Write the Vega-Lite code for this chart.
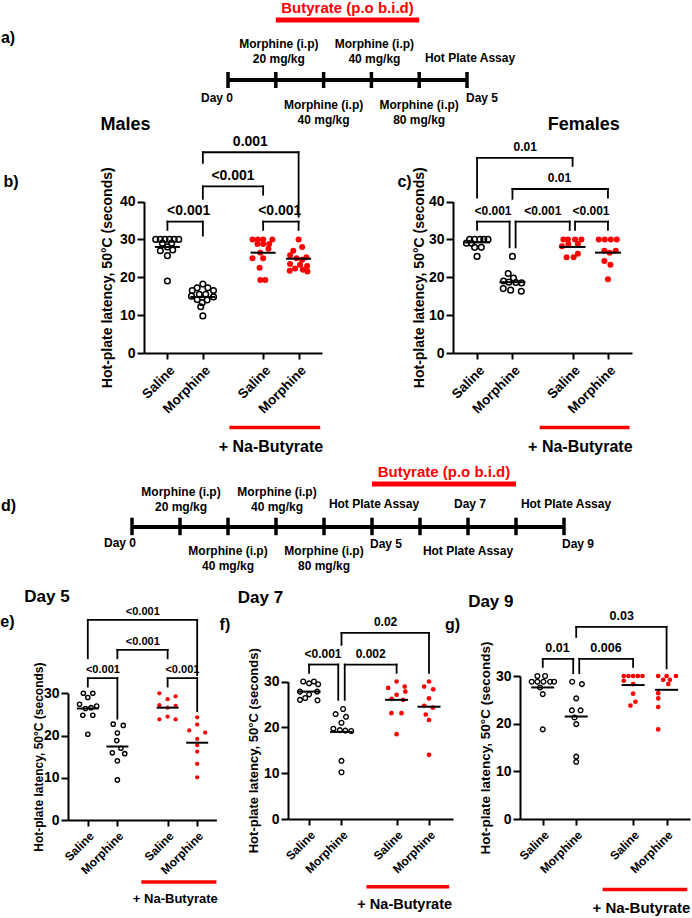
{
"$schema": "https://vega.github.io/schema/vega-lite/v6.json",
"background": "white",
"padding": 0,
"bounds": "flush",
"spacing": 0,
"config": {
  "font": "Liberation Sans",
  "view": {"stroke": null},
  "axis": {"domainColor": "black", "domainWidth": 2, "tickColor": "black", "tickWidth": 2, "labelColor": "black", "labelFontWeight": "bold", "titleColor": "black", "titleFontWeight": "bold", "grid": false, "labelOverlap": false, "labelFlush": false, "labelBound": false, "tickCount": 12},
  "text": {"fontWeight": "bold", "color": "black"}
},
"datasets": {
  "pts": [
    {"p":"b","g":"S","x":0.67,"v":30},{"p":"b","g":"S","x":0.8,"v":30},{"p":"b","g":"S","x":0.93,"v":30},{"p":"b","g":"S","x":1.06,"v":30},{"p":"b","g":"S","x":1.19,"v":30},{"p":"b","g":"S","x":1.32,"v":30},{"p":"b","g":"S","x":0.86,"v":29},{"p":"b","g":"S","x":1.12,"v":29},{"p":"b","g":"S","x":1.0,"v":28},{"p":"b","g":"S","x":0.8,"v":27},{"p":"b","g":"S","x":1.15,"v":27.2},{"p":"b","g":"S","x":1.0,"v":25.7},{"p":"b","g":"S","x":1.0,"v":19},
    {"p":"b","g":"M","x":2.0,"v":18.2},{"p":"b","g":"M","x":1.84,"v":17.2},{"p":"b","g":"M","x":2.14,"v":17.2},{"p":"b","g":"M","x":1.7,"v":16.5},{"p":"b","g":"M","x":2.3,"v":16.5},{"p":"b","g":"M","x":1.9,"v":15.5},{"p":"b","g":"M","x":2.08,"v":15.5},{"p":"b","g":"M","x":1.68,"v":15.0},{"p":"b","g":"M","x":2.3,"v":14.8},{"p":"b","g":"M","x":1.84,"v":14.1},{"p":"b","g":"M","x":2.12,"v":14.0},{"p":"b","g":"M","x":1.98,"v":13.3},{"p":"b","g":"M","x":1.94,"v":12.2},{"p":"b","g":"M","x":2.0,"v":9.8},
    {"p":"b","g":"NS","x":3.4,"v":30},{"p":"b","g":"NS","x":3.55,"v":30},{"p":"b","g":"NS","x":3.7,"v":30},{"p":"b","g":"NS","x":3.96,"v":30},{"p":"b","g":"NS","x":3.54,"v":28.8},{"p":"b","g":"NS","x":3.7,"v":28.8},{"p":"b","g":"NS","x":3.87,"v":28.8},{"p":"b","g":"NS","x":3.85,"v":27.5},{"p":"b","g":"NS","x":3.62,"v":26.5},{"p":"b","g":"NS","x":3.4,"v":25},{"p":"b","g":"NS","x":3.7,"v":25},{"p":"b","g":"NS","x":3.6,"v":22.5},{"p":"b","g":"NS","x":3.62,"v":19.3},{"p":"b","g":"NS","x":3.76,"v":19.3},
    {"p":"b","g":"NM","x":4.7,"v":30},{"p":"b","g":"NM","x":4.8,"v":28},{"p":"b","g":"NM","x":4.55,"v":27},{"p":"b","g":"NM","x":4.46,"v":25.8},{"p":"b","g":"NM","x":4.92,"v":25.3},{"p":"b","g":"NM","x":4.64,"v":25},{"p":"b","g":"NM","x":4.8,"v":24.6},{"p":"b","g":"NM","x":4.46,"v":23.5},{"p":"b","g":"NM","x":4.74,"v":23.3},{"p":"b","g":"NM","x":4.94,"v":23},{"p":"b","g":"NM","x":4.6,"v":22.3},{"p":"b","g":"NM","x":4.82,"v":22},{"p":"b","g":"NM","x":4.45,"v":21.7},{"p":"b","g":"NM","x":4.95,"v":21.5},
    {"p":"c","g":"S","x":0.79,"v":30},{"p":"c","g":"S","x":0.93,"v":30},{"p":"c","g":"S","x":1.08,"v":30},{"p":"c","g":"S","x":1.19,"v":30},{"p":"c","g":"S","x":1.31,"v":30},{"p":"c","g":"S","x":0.7,"v":29},{"p":"c","g":"S","x":0.84,"v":29},{"p":"c","g":"S","x":0.93,"v":27.9},{"p":"c","g":"S","x":1.12,"v":27.9},{"p":"c","g":"S","x":1.0,"v":25.5},
    {"p":"c","g":"M","x":2.0,"v":25.5},{"p":"c","g":"M","x":1.88,"v":21},{"p":"c","g":"M","x":2.03,"v":19.8},{"p":"c","g":"M","x":1.75,"v":19},{"p":"c","g":"M","x":1.9,"v":18.7},{"p":"c","g":"M","x":2.1,"v":18.6},{"p":"c","g":"M","x":2.26,"v":18.5},{"p":"c","g":"M","x":1.74,"v":17},{"p":"c","g":"M","x":1.95,"v":16.6},{"p":"c","g":"M","x":2.25,"v":16.3},
    {"p":"c","g":"NS","x":3.44,"v":30},{"p":"c","g":"NS","x":3.57,"v":30},{"p":"c","g":"NS","x":3.77,"v":30},{"p":"c","g":"NS","x":3.95,"v":30},{"p":"c","g":"NS","x":3.58,"v":28.8},{"p":"c","g":"NS","x":3.85,"v":28.8},{"p":"c","g":"NS","x":3.4,"v":28.2},{"p":"c","g":"NS","x":3.85,"v":26.2},{"p":"c","g":"NS","x":3.53,"v":25.3},{"p":"c","g":"NS","x":3.73,"v":25.3},
    {"p":"c","g":"NM","x":4.44,"v":30},{"p":"c","g":"NM","x":4.61,"v":30},{"p":"c","g":"NM","x":4.78,"v":30},{"p":"c","g":"NM","x":4.95,"v":30},{"p":"c","g":"NM","x":4.6,"v":27},{"p":"c","g":"NM","x":4.92,"v":27},{"p":"c","g":"NM","x":4.75,"v":26.5},{"p":"c","g":"NM","x":4.6,"v":24.3},{"p":"c","g":"NM","x":4.77,"v":23.3},{"p":"c","g":"NM","x":4.7,"v":19.5},
    {"p":"e","g":"S","x":0.85,"v":30},{"p":"e","g":"S","x":1.17,"v":30},{"p":"e","g":"S","x":1.0,"v":29},{"p":"e","g":"S","x":0.72,"v":27.4},{"p":"e","g":"S","x":0.92,"v":26.4},{"p":"e","g":"S","x":1.11,"v":26.6},{"p":"e","g":"S","x":1.3,"v":27.0},{"p":"e","g":"S","x":0.83,"v":24.8},{"p":"e","g":"S","x":1.17,"v":24.8},{"p":"e","g":"S","x":1.0,"v":20.3},
    {"p":"e","g":"M","x":1.86,"v":22.7},{"p":"e","g":"M","x":2.2,"v":22.4},{"p":"e","g":"M","x":2.0,"v":20.6},{"p":"e","g":"M","x":1.98,"v":18.8},{"p":"e","g":"M","x":2.12,"v":17.0},{"p":"e","g":"M","x":1.83,"v":15.9},{"p":"e","g":"M","x":2.25,"v":15.7},{"p":"e","g":"M","x":2.0,"v":14.0},{"p":"e","g":"M","x":2.0,"v":9.5},
    {"p":"e","g":"NS","x":3.42,"v":30},{"p":"e","g":"NS","x":3.97,"v":29.3},{"p":"e","g":"NS","x":3.7,"v":28.6},{"p":"e","g":"NS","x":3.42,"v":27.2},{"p":"e","g":"NS","x":3.97,"v":27.0},{"p":"e","g":"NS","x":3.7,"v":26.6},{"p":"e","g":"NS","x":3.7,"v":24.5},{"p":"e","g":"NS","x":3.42,"v":23.8},{"p":"e","g":"NS","x":3.97,"v":23.8},
    {"p":"e","g":"NM","x":4.7,"v":24.3},{"p":"e","g":"NM","x":4.7,"v":22.6},{"p":"e","g":"NM","x":4.43,"v":21.2},{"p":"e","g":"NM","x":4.97,"v":20.7},{"p":"e","g":"NM","x":4.7,"v":19.2},{"p":"e","g":"NM","x":4.7,"v":17.7},{"p":"e","g":"NM","x":4.7,"v":16.2},{"p":"e","g":"NM","x":4.7,"v":13.3},{"p":"e","g":"NM","x":4.7,"v":10.1},
    {"p":"f","g":"S","x":0.82,"v":30},{"p":"f","g":"S","x":1.15,"v":30},{"p":"f","g":"S","x":1.0,"v":29.6},{"p":"f","g":"S","x":1.28,"v":29.4},{"p":"f","g":"S","x":0.72,"v":27.8},{"p":"f","g":"S","x":1.0,"v":27.2},{"p":"f","g":"S","x":1.25,"v":27.8},{"p":"f","g":"S","x":0.72,"v":26.0},{"p":"f","g":"S","x":1.26,"v":25.9},{"p":"f","g":"S","x":0.88,"v":26.4},
    {"p":"f","g":"M","x":2.05,"v":24},{"p":"f","g":"M","x":1.82,"v":22.9},{"p":"f","g":"M","x":2.14,"v":22.3},{"p":"f","g":"M","x":2.0,"v":21},{"p":"f","g":"M","x":1.75,"v":19.7},{"p":"f","g":"M","x":1.95,"v":19.4},{"p":"f","g":"M","x":2.12,"v":19.3},{"p":"f","g":"M","x":2.3,"v":19.2},{"p":"f","g":"M","x":2.0,"v":12.7},{"p":"f","g":"M","x":2.0,"v":10.2},
    {"p":"f","g":"NS","x":3.7,"v":30},{"p":"f","g":"NS","x":3.44,"v":28.6},{"p":"f","g":"NS","x":3.95,"v":28.9},{"p":"f","g":"NS","x":3.97,"v":27.8},{"p":"f","g":"NS","x":3.7,"v":27.1},{"p":"f","g":"NS","x":3.55,"v":26.2},{"p":"f","g":"NS","x":3.9,"v":26.0},{"p":"f","g":"NS","x":3.54,"v":23.1},{"p":"f","g":"NS","x":3.85,"v":23.1},{"p":"f","g":"NS","x":3.7,"v":18.5},
    {"p":"f","g":"NM","x":4.7,"v":30},{"p":"f","g":"NM","x":4.55,"v":28.9},{"p":"f","g":"NM","x":4.83,"v":28.3},{"p":"f","g":"NM","x":4.7,"v":26.3},{"p":"f","g":"NM","x":4.55,"v":24.7},{"p":"f","g":"NM","x":4.82,"v":24.3},{"p":"f","g":"NM","x":4.6,"v":22.8},{"p":"f","g":"NM","x":4.7,"v":21.6},{"p":"f","g":"NM","x":4.7,"v":14},
    {"p":"g","g":"S","x":0.84,"v":30},{"p":"g","g":"S","x":1.07,"v":30},{"p":"g","g":"S","x":0.67,"v":28.8},{"p":"g","g":"S","x":0.84,"v":28.8},{"p":"g","g":"S","x":1.02,"v":28.8},{"p":"g","g":"S","x":1.22,"v":28.8},{"p":"g","g":"S","x":1.34,"v":28.8},{"p":"g","g":"S","x":0.92,"v":27.6},{"p":"g","g":"S","x":1.0,"v":26.2},{"p":"g","g":"S","x":1.0,"v":18.8},
    {"p":"g","g":"M","x":1.88,"v":28.8},{"p":"g","g":"M","x":2.17,"v":28.3},{"p":"g","g":"M","x":2.0,"v":25.3},{"p":"g","g":"M","x":1.87,"v":22.8},{"p":"g","g":"M","x":2.13,"v":22.8},{"p":"g","g":"M","x":1.95,"v":21.3},{"p":"g","g":"M","x":2.0,"v":19.9},{"p":"g","g":"M","x":2.0,"v":13.1},{"p":"g","g":"M","x":2.0,"v":12.0},
    {"p":"g","g":"NS","x":3.42,"v":30},{"p":"g","g":"NS","x":3.56,"v":30},{"p":"g","g":"NS","x":3.7,"v":30},{"p":"g","g":"NS","x":3.84,"v":30},{"p":"g","g":"NS","x":3.98,"v":30},{"p":"g","g":"NS","x":3.42,"v":29.0},{"p":"g","g":"NS","x":3.7,"v":28.3},{"p":"g","g":"NS","x":3.7,"v":26.3},{"p":"g","g":"NS","x":3.77,"v":24.6},{"p":"g","g":"NS","x":3.62,"v":23.8},
    {"p":"g","g":"NM","x":4.45,"v":30},{"p":"g","g":"NM","x":4.7,"v":30},{"p":"g","g":"NM","x":4.98,"v":30},{"p":"g","g":"NM","x":4.6,"v":29.2},{"p":"g","g":"NM","x":4.8,"v":29.2},{"p":"g","g":"NM","x":4.75,"v":28.3},{"p":"g","g":"NM","x":4.45,"v":26.4},{"p":"g","g":"NM","x":4.45,"v":25.3},{"p":"g","g":"NM","x":4.45,"v":23.5},{"p":"g","g":"NM","x":4.45,"v":18.8}
  ],
  "med": [
    {"p":"b","x":1,"v":28.0},{"p":"b","x":2,"v":14.8},{"p":"b","x":3.7,"v":26.5},{"p":"b","x":4.7,"v":24.9},
    {"p":"c","x":1,"v":29.2},{"p":"c","x":2,"v":18.7},{"p":"c","x":3.7,"v":28.0},{"p":"c","x":4.7,"v":26.5},
    {"p":"e","x":1,"v":26.4},{"p":"e","x":2,"v":17.4},{"p":"e","x":3.7,"v":26.6},{"p":"e","x":4.7,"v":18.3},
    {"p":"f","x":1,"v":27.8},{"p":"f","x":2,"v":19.0},{"p":"f","x":3.7,"v":26.0},{"p":"f","x":4.7,"v":24.5},
    {"p":"g","x":1,"v":27.6},{"p":"g","x":2,"v":21.5},{"p":"g","x":3.7,"v":28.1},{"p":"g","x":4.7,"v":27.1}
  ],
  "br": [
    {"p":"b","x1":1,"x2":2,"top":34.7,"yL":32.5,"yR":31.0,"xm":1.6,"lab":"<0.001"},
    {"p":"b","x1":2,"x2":3.7,"top":44.0,"yL":40.7,"yR":41.8,"xm":2.85,"lab":"<0.001"},
    {"p":"b","x1":3.7,"x2":4.7,"top":34.7,"yL":32.5,"yR":32.5,"xm":4.17,"lab":"<0.001"},
    {"p":"b","x1":2,"x2":4.7,"top":53.0,"yL":50.2,"yR":36.0,"xm":3.34,"lab":"0.001"},
    {"p":"c","x1":1,"x2":3.7,"top":51.5,"yL":41.0,"yR":49.4,"xm":2.36,"lab":"0.01"},
    {"p":"c","x1":2,"x2":4.7,"top":43.3,"yL":40.7,"yR":41.0,"xm":3.33,"lab":"0.01"},
    {"p":"c","x1":1,"x2":1.92,"top":34.7,"yL":32.5,"yR":27.9,"xm":1.45,"lab":"<0.001"},
    {"p":"c","x1":2.09,"x2":3.62,"top":34.7,"yL":27.9,"yR":32.5,"xm":2.86,"lab":"<0.001"},
    {"p":"c","x1":3.77,"x2":4.7,"top":34.7,"yL":32.5,"yR":32.5,"xm":4.22,"lab":"<0.001"},
    {"p":"e","x1":1,"x2":4.7,"top":47.4,"yL":38.3,"yR":34.3,"xm":2.86,"lab":"<0.001"},
    {"p":"e","x1":2,"x2":3.7,"top":40.3,"yL":38.3,"yR":38.3,"xm":2.86,"lab":"<0.001"},
    {"p":"e","x1":1,"x2":2,"top":33.6,"yL":31.6,"yR":24.0,"xm":1.51,"lab":"<0.001"},
    {"p":"e","x1":3.7,"x2":4.7,"top":33.6,"yL":31.6,"yR":25.8,"xm":4.2,"lab":"<0.001"},
    {"p":"f","x1":2,"x2":4.7,"top":40.6,"yL":38.0,"yR":31.9,"xm":3.36,"lab":"0.02"},
    {"p":"f","x1":1,"x2":1.9,"top":33.7,"yL":31.9,"yR":26.0,"xm":1.43,"lab":"<0.001"},
    {"p":"f","x1":2.1,"x2":3.7,"top":33.7,"yL":26.0,"yR":31.9,"xm":2.9,"lab":"0.002"},
    {"p":"g","x1":2,"x2":4.7,"top":40.3,"yL":38.2,"yR":31.6,"xm":3.36,"lab":"0.03"},
    {"p":"g","x1":1,"x2":1.91,"top":33.6,"yL":31.9,"yR":30.6,"xm":1.44,"lab":"0.01"},
    {"p":"g","x1":2.09,"x2":3.7,"top":33.6,"yL":30.6,"yR":31.9,"xm":2.89,"lab":"0.006"}
  ],
  "tl": [
    {"t":"a","day":1,"side":"above2","label":"Morphine (i.p)\n20 mg/kg"},
    {"t":"a","day":3,"side":"above2","label":"Morphine (i.p)\n40 mg/kg"},
    {"t":"a","day":5,"side":"above1","label":"Hot Plate Assay"},
    {"t":"a","day":2,"side":"below","label":"Morphine (i.p)\n40 mg/kg"},
    {"t":"a","day":4,"side":"below","label":"Morphine (i.p)\n80 mg/kg"},
    {"t":"a","day":0,"side":"dayR","label":"Day 0"},
    {"t":"a","day":5,"side":"dayL","label":"Day 5"},
    {"t":"d","day":1,"side":"above2","label":"Morphine (i.p)\n20 mg/kg"},
    {"t":"d","day":3,"side":"above2","label":"Morphine (i.p)\n40 mg/kg"},
    {"t":"d","day":5,"side":"above1","label":"Hot Plate Assay"},
    {"t":"d","day":7,"side":"above1","label":"Day 7"},
    {"t":"d","day":9,"side":"above1","label":"Hot Plate Assay"},
    {"t":"d","day":2,"side":"below","label":"Morphine (i.p)\n40 mg/kg"},
    {"t":"d","day":4,"side":"below","label":"Morphine (i.p)\n80 mg/kg"},
    {"t":"d","day":7,"side":"below","label":"Hot Plate Assay"},
    {"t":"d","day":0,"side":"dayR","label":"Day 0"},
    {"t":"d","day":5,"side":"dayL","label":"Day 5"},
    {"t":"d","day":9,"side":"dayL","label":"Day 9"}
  ],
  "ticks": [
    {"t":"a","day":0},{"t":"a","day":1},{"t":"a","day":2},{"t":"a","day":3},{"t":"a","day":4},{"t":"a","day":5},
    {"t":"d","day":0},{"t":"d","day":1},{"t":"d","day":2},{"t":"d","day":3},{"t":"d","day":4},{"t":"d","day":5},{"t":"d","day":6},{"t":"d","day":7},{"t":"d","day":8},{"t":"d","day":9}
  ],
  "span": [{"t":"a","start":0,"end":5},{"t":"d","start":0,"end":9}],
  "treat": [{"t":"a","start":1,"end":4,"mid":2.5,"label":"Butyrate (p.o b.i.d)"},{"t":"d","start":5,"end":8,"mid":6.5,"label":"Butyrate (p.o b.i.d)"}]
},
"hconcat": [
  {"width": 68, "height": 1, "data": {"values": []}, "mark": "point"},

  {"width": 64, "height": 820, "layer": [
    {"data": {"name": "pts"}, "transform": [{"filter": "datum.p==='e' && (datum.g==='S' || datum.g==='M')"}], "mark": {"type": "point", "shape": "circle", "filled": false, "color": "black", "stroke": "black", "strokeWidth": 1.4, "size": 18, "opacity": 1},
     "encoding": {"x": {"field": "x", "type": "quantitative", "scale": {"domain": [0.33, 5.35], "range": [0, 148.4], "nice": false, "zero": false}, "axis": {"values": [1, 2, 3.7, 4.7], "tickCount": 12, "labelExpr": "(datum.value < 1.5 || (datum.value > 3 && datum.value < 4)) ? 'Saline' : 'Morphine'", "labelAngle": -45, "labelFontSize": 12, "tickSize": 6, "labelPadding": 4, "labelOverlap": false, "title": null}},
                  "y": {"field": "v", "type": "quantitative", "scale": {"domain": [0, 30], "range": [820, 693.3], "nice": false, "zero": false}, "axis": {"values": [0, 10, 20, 30], "tickCount": 12, "labelFontSize": 14, "tickSize": 7, "labelPadding": 2, "labelOverlap": false, "title": "Hot-plate latency, 50°C (seconds)", "titleFontSize": 12, "titleX": -30, "titleBaseline": "middle"}}}},
    {"data": {"name": "pts"}, "transform": [{"filter": "datum.p==='e' && (datum.g==='NS' || datum.g==='NM')"}], "mark": {"type": "point", "shape": "circle", "filled": true, "color": "#ff0000", "size": 18, "opacity": 1},
     "encoding": {"x": {"field": "x", "type": "quantitative"}, "y": {"field": "v", "type": "quantitative"}}},
    {"data": {"name": "med"}, "transform": [{"filter": "datum.p==='e'"}], "mark": {"type": "tick", "orient": "horizontal", "size": 22, "thickness": 2, "color": "black", "opacity": 1},
     "encoding": {"x": {"field": "x", "type": "quantitative"}, "y": {"field": "v", "type": "quantitative"}}},
    {"data": {"name": "br"}, "transform": [{"filter": "datum.p==='e'"}], "mark": {"type": "rule", "strokeWidth": 1.8, "color": "black", "strokeCap": "square"},
     "encoding": {"x": {"field": "x1", "type": "quantitative"}, "x2": {"field": "x2"}, "y": {"field": "top", "type": "quantitative"}}},
    {"data": {"name": "br"}, "transform": [{"filter": "datum.p==='e'"}], "mark": {"type": "rule", "strokeWidth": 1.8, "color": "black", "strokeCap": "square"},
     "encoding": {"x": {"field": "x1", "type": "quantitative"}, "y": {"field": "yL", "type": "quantitative"}, "y2": {"field": "top"}}},
    {"data": {"name": "br"}, "transform": [{"filter": "datum.p==='e'"}], "mark": {"type": "rule", "strokeWidth": 1.8, "color": "black", "strokeCap": "square"},
     "encoding": {"x": {"field": "x2", "type": "quantitative"}, "y": {"field": "yR", "type": "quantitative"}, "y2": {"field": "top"}}},
    {"data": {"name": "br"}, "transform": [{"filter": "datum.p==='e'"}], "mark": {"type": "text", "fontSize": 11, "baseline": "alphabetic", "dy": -5},
     "encoding": {"x": {"field": "xm", "type": "quantitative"}, "y": {"field": "top", "type": "quantitative"}, "text": {"field": "lab"}}},
    {"data": {"values": [{}]}, "mark": {"type": "rule", "strokeWidth": 3.5, "color": "#ff0000"},
     "encoding": {"x": {"datum": 2.81}, "x2": {"datum": 5.35}, "y": {"datum": -14.7}}},
    {"data": {"values": [{}]}, "mark": {"type": "text", "text": "+ Na-Butyrate", "fontSize": 13, "baseline": "middle"},
     "encoding": {"x": {"datum": 3.96}, "y": {"datum": -18.6}}},
    {"data": {"values": [{}]}, "mark": {"type": "text", "text": "Day 5", "fontSize": 17, "align": "left", "baseline": "middle"},
     "encoding": {"x": {"datum": -1.15}, "y": {"datum": 52.9}}},
    {"data": {"values": [{}]}, "mark": {"type": "text", "text": "e)", "fontSize": 16, "align": "left", "baseline": "middle"},
     "encoding": {"x": {"datum": -1.96}, "y": {"datum": 46.9}}}
  ]},

  {"width": 12, "height": 676, "layer": [
    {"data": {"name": "span"}, "transform": [{"filter": "datum.t==='d'"}], "mark": {"type": "rule", "strokeWidth": 4, "color": "black"},
     "encoding": {"x": {"field": "start", "type": "quantitative", "scale": {"domain": [0, 9], "range": [0, 432], "nice": false, "zero": false}, "axis": null}, "x2": {"field": "end"}, "y": {"datum": 173.3, "type": "quantitative", "scale": {"domain": [0, 322], "range": [353.7, 675.7], "nice": false, "zero": false}, "axis": null}}},
    {"data": {"name": "ticks"}, "transform": [{"filter": "datum.t==='d'"}], "mark": {"type": "rule", "strokeWidth": 3.5, "color": "black"},
     "encoding": {"x": {"field": "day", "type": "quantitative", "axis": null}, "y": {"datum": 164, "axis": null}, "y2": {"datum": 181.5}}},
    {"data": {"name": "treat"}, "transform": [{"filter": "datum.t==='d'"}], "mark": {"type": "rule", "strokeWidth": 5, "color": "#ff0000"},
     "encoding": {"x": {"field": "start", "type": "quantitative", "axis": null}, "x2": {"field": "end"}, "y": {"datum": 130.3, "axis": null}}},
    {"data": {"name": "treat"}, "transform": [{"filter": "datum.t==='d'"}], "mark": {"type": "text", "fontSize": 15, "color": "#ff0000", "baseline": "middle"},
     "encoding": {"x": {"field": "mid", "type": "quantitative", "axis": null}, "y": {"datum": 118.3, "axis": null}, "text": {"field": "label"}}},
    {"data": {"name": "tl"}, "transform": [{"filter": "datum.t==='d' && datum.side==='above2'"}], "mark": {"type": "text", "fontSize": 12, "baseline": "top", "lineBreak": "\n", "lineHeight": 15, "dx": 1},
     "encoding": {"x": {"field": "day", "type": "quantitative", "axis": null}, "y": {"datum": 133.1, "axis": null}, "text": {"field": "label"}}},
    {"data": {"name": "tl"}, "transform": [{"filter": "datum.t==='d' && datum.side==='above1'"}], "mark": {"type": "text", "fontSize": 12, "baseline": "middle", "dx": 2},
     "encoding": {"x": {"field": "day", "type": "quantitative", "axis": null}, "y": {"datum": 150.3, "axis": null}, "text": {"field": "label"}}},
    {"data": {"name": "tl"}, "transform": [{"filter": "datum.t==='d' && datum.side==='below'"}], "mark": {"type": "text", "fontSize": 12, "baseline": "top", "lineBreak": "\n", "lineHeight": 15},
     "encoding": {"x": {"field": "day", "type": "quantitative", "axis": null}, "y": {"datum": 192, "axis": null}, "text": {"field": "label"}}},
    {"data": {"name": "tl"}, "transform": [{"filter": "datum.t==='d' && datum.side==='dayR'"}], "mark": {"type": "text", "fontSize": 12, "baseline": "middle", "align": "right", "dx": 4},
     "encoding": {"x": {"field": "day", "type": "quantitative", "axis": null}, "y": {"datum": 189.5, "axis": null}, "text": {"field": "label"}}},
    {"data": {"name": "tl"}, "transform": [{"filter": "datum.t==='d' && datum.side==='dayL'"}], "mark": {"type": "text", "fontSize": 12, "baseline": "middle", "align": "left", "dx": -2},
     "encoding": {"x": {"field": "day", "type": "quantitative", "axis": null}, "y": {"datum": 190, "axis": null}, "text": {"field": "label"}}},
    {"data": {"values": [{}]}, "mark": {"type": "text", "text": "d)", "fontSize": 16, "align": "left", "baseline": "middle"},
     "encoding": {"x": {"datum": -2.73, "axis": null}, "y": {"datum": 152.3, "axis": null}}}
  ]},

  {"width": 84, "height": 353, "layer": [
    {"data": {"name": "pts"}, "transform": [{"filter": "datum.p==='b' && (datum.g==='S' || datum.g==='M')"}], "mark": {"type": "point", "shape": "circle", "filled": false, "color": "black", "stroke": "black", "strokeWidth": 1.5, "size": 32, "opacity": 1},
     "encoding": {"x": {"field": "x", "type": "quantitative", "scale": {"domain": [0.34, 5.36], "range": [0, 178], "nice": false, "zero": false}, "axis": {"values": [1, 2, 3.7, 4.7], "tickCount": 12, "labelExpr": "(datum.value < 1.5 || (datum.value > 3 && datum.value < 4)) ? 'Saline' : 'Morphine'", "labelAngle": -45, "labelFontSize": 13.5, "tickSize": 6, "labelPadding": 4, "labelOverlap": false, "title": null}},
                  "y": {"field": "v", "type": "quantitative", "scale": {"domain": [0, 40], "range": [353, 201.5], "nice": false, "zero": false}, "axis": {"values": [0, 10, 20, 30, 40], "tickCount": 12, "labelFontSize": 14, "tickSize": 7, "labelPadding": 2, "labelOverlap": false, "title": "Hot-plate latency, 50°C (seconds)", "titleFontSize": 14, "titleX": -36.5, "titleBaseline": "middle"}}}},
    {"data": {"name": "pts"}, "transform": [{"filter": "datum.p==='b' && (datum.g==='NS' || datum.g==='NM')"}], "mark": {"type": "point", "shape": "circle", "filled": true, "color": "#ff0000", "size": 36, "opacity": 1},
     "encoding": {"x": {"field": "x", "type": "quantitative"}, "y": {"field": "v", "type": "quantitative"}}},
    {"data": {"name": "med"}, "transform": [{"filter": "datum.p==='b'"}], "mark": {"type": "tick", "orient": "horizontal", "size": 25, "thickness": 2, "color": "black", "opacity": 1},
     "encoding": {"x": {"field": "x", "type": "quantitative"}, "y": {"field": "v", "type": "quantitative"}}},
    {"data": {"name": "br"}, "transform": [{"filter": "datum.p==='b'"}], "mark": {"type": "rule", "strokeWidth": 1.8, "color": "black", "strokeCap": "square"},
     "encoding": {"x": {"field": "x1", "type": "quantitative"}, "x2": {"field": "x2"}, "y": {"field": "top", "type": "quantitative"}}},
    {"data": {"name": "br"}, "transform": [{"filter": "datum.p==='b'"}], "mark": {"type": "rule", "strokeWidth": 1.8, "color": "black", "strokeCap": "square"},
     "encoding": {"x": {"field": "x1", "type": "quantitative"}, "y": {"field": "yL", "type": "quantitative"}, "y2": {"field": "top"}}},
    {"data": {"name": "br"}, "transform": [{"filter": "datum.p==='b'"}], "mark": {"type": "rule", "strokeWidth": 1.8, "color": "black", "strokeCap": "square"},
     "encoding": {"x": {"field": "x2", "type": "quantitative"}, "y": {"field": "yR", "type": "quantitative"}, "y2": {"field": "top"}}},
    {"data": {"name": "br"}, "transform": [{"filter": "datum.p==='b'"}], "mark": {"type": "text", "fontSize": 14, "baseline": "alphabetic", "dy": -6.5},
     "encoding": {"x": {"field": "xm", "type": "quantitative"}, "y": {"field": "top", "type": "quantitative"}, "text": {"field": "lab"}}},
    {"data": {"values": [{}]}, "mark": {"type": "rule", "strokeWidth": 3.5, "color": "#ff0000"},
     "encoding": {"x": {"datum": 2.75}, "x2": {"datum": 5.31}, "y": {"datum": -19.7}}},
    {"data": {"values": [{}]}, "mark": {"type": "text", "text": "+ Na-Butyrate", "fontSize": 16, "baseline": "middle"},
     "encoding": {"x": {"datum": 3.92}, "y": {"datum": -24.7}}},
    {"data": {"values": [{}]}, "mark": {"type": "text", "text": "Males", "fontSize": 18, "align": "left", "baseline": "middle"},
     "encoding": {"x": {"datum": -0.89}, "y": {"datum": 60.2}}},
    {"data": {"values": [{}]}, "mark": {"type": "text", "text": "b)", "fontSize": 16, "align": "left", "baseline": "middle"},
     "encoding": {"x": {"datum": -3.62}, "y": {"datum": 45.2}}}
  ]},

  {"width": 60, "height": 202, "layer": [
    {"data": {"name": "span"}, "transform": [{"filter": "datum.t==='a'"}], "mark": {"type": "rule", "strokeWidth": 4, "color": "black"},
     "encoding": {"x": {"field": "start", "type": "quantitative", "scale": {"domain": [0, 5], "range": [0, 239], "nice": false, "zero": false}, "axis": null}, "x2": {"field": "end"}, "y": {"datum": 80, "type": "quantitative", "scale": {"domain": [0, 202], "range": [0, 202], "nice": false, "zero": false}, "axis": null}}},
    {"data": {"name": "ticks"}, "transform": [{"filter": "datum.t==='a'"}], "mark": {"type": "rule", "strokeWidth": 3.5, "color": "black"},
     "encoding": {"x": {"field": "day", "type": "quantitative", "axis": null}, "y": {"datum": 72, "axis": null}, "y2": {"datum": 88}}},
    {"data": {"name": "treat"}, "transform": [{"filter": "datum.t==='a'"}], "mark": {"type": "rule", "strokeWidth": 5, "color": "#ff0000"},
     "encoding": {"x": {"field": "start", "type": "quantitative", "axis": null}, "x2": {"field": "end"}, "y": {"datum": 20, "axis": null}}},
    {"data": {"name": "treat"}, "transform": [{"filter": "datum.t==='a'"}], "mark": {"type": "text", "fontSize": 15, "color": "#ff0000", "baseline": "middle"},
     "encoding": {"x": {"field": "mid", "type": "quantitative", "axis": null}, "y": {"datum": 8, "axis": null}, "text": {"field": "label"}}},
    {"data": {"name": "tl"}, "transform": [{"filter": "datum.t==='a' && datum.side==='above2'"}], "mark": {"type": "text", "fontSize": 12, "baseline": "top", "lineBreak": "\n", "lineHeight": 15, "dx": 3},
     "encoding": {"x": {"field": "day", "type": "quantitative", "axis": null}, "y": {"datum": 38.8, "axis": null}, "text": {"field": "label"}}},
    {"data": {"name": "tl"}, "transform": [{"filter": "datum.t==='a' && datum.side==='above1'"}], "mark": {"type": "text", "fontSize": 12, "baseline": "middle", "dx": 3},
     "encoding": {"x": {"field": "day", "type": "quantitative", "axis": null}, "y": {"datum": 58, "axis": null}, "text": {"field": "label"}}},
    {"data": {"name": "tl"}, "transform": [{"filter": "datum.t==='a' && datum.side==='below'"}], "mark": {"type": "text", "fontSize": 12, "baseline": "top", "lineBreak": "\n", "lineHeight": 15},
     "encoding": {"x": {"field": "day", "type": "quantitative", "axis": null}, "y": {"datum": 99.5, "axis": null}, "text": {"field": "label"}}},
    {"data": {"name": "tl"}, "transform": [{"filter": "datum.t==='a' && datum.side==='dayR'"}], "mark": {"type": "text", "fontSize": 12, "baseline": "middle", "align": "right", "dx": 5},
     "encoding": {"x": {"field": "day", "type": "quantitative", "axis": null}, "y": {"datum": 98, "axis": null}, "text": {"field": "label"}}},
    {"data": {"name": "tl"}, "transform": [{"filter": "datum.t==='a' && datum.side==='dayL'"}], "mark": {"type": "text", "fontSize": 12, "baseline": "middle", "align": "left", "dx": -1},
     "encoding": {"x": {"field": "day", "type": "quantitative", "axis": null}, "y": {"datum": 98, "axis": null}, "text": {"field": "label"}}},
    {"data": {"values": [{}]}, "mark": {"type": "text", "text": "a)", "fontSize": 16, "align": "left", "baseline": "middle"},
     "encoding": {"x": {"datum": -4.75, "axis": null}, "y": {"datum": 38, "axis": null}}}
  ]},

  {"width": 165, "height": 819, "layer": [
    {"data": {"name": "pts"}, "transform": [{"filter": "datum.p==='f' && (datum.g==='S' || datum.g==='M')"}], "mark": {"type": "point", "shape": "circle", "filled": false, "color": "black", "stroke": "black", "strokeWidth": 1.4, "size": 22, "opacity": 1},
     "encoding": {"x": {"field": "x", "type": "quantitative", "scale": {"domain": [0.35, 5.44], "range": [0, 165], "nice": false, "zero": false}, "axis": {"values": [1, 2, 3.7, 4.7], "tickCount": 12, "labelExpr": "(datum.value < 1.5 || (datum.value > 3 && datum.value < 4)) ? 'Saline' : 'Morphine'", "labelAngle": -45, "labelFontSize": 12, "tickSize": 6, "labelPadding": 4, "labelOverlap": false, "title": null}},
                  "y": {"field": "v", "type": "quantitative", "scale": {"domain": [0, 30], "range": [819, 681.5], "nice": false, "zero": false}, "axis": {"values": [0, 10, 20, 30], "tickCount": 12, "labelFontSize": 14, "tickSize": 7, "labelPadding": 2, "labelOverlap": false, "title": "Hot-plate latency, 50°C (seconds)", "titleFontSize": 13, "titleX": -35, "titleBaseline": "middle"}}}},
    {"data": {"name": "pts"}, "transform": [{"filter": "datum.p==='f' && (datum.g==='NS' || datum.g==='NM')"}], "mark": {"type": "point", "shape": "circle", "filled": true, "color": "#ff0000", "size": 22, "opacity": 1},
     "encoding": {"x": {"field": "x", "type": "quantitative"}, "y": {"field": "v", "type": "quantitative"}}},
    {"data": {"name": "med"}, "transform": [{"filter": "datum.p==='f'"}], "mark": {"type": "tick", "orient": "horizontal", "size": 23, "thickness": 2, "color": "black", "opacity": 1},
     "encoding": {"x": {"field": "x", "type": "quantitative"}, "y": {"field": "v", "type": "quantitative"}}},
    {"data": {"name": "br"}, "transform": [{"filter": "datum.p==='f'"}], "mark": {"type": "rule", "strokeWidth": 1.8, "color": "black", "strokeCap": "square"},
     "encoding": {"x": {"field": "x1", "type": "quantitative"}, "x2": {"field": "x2"}, "y": {"field": "top", "type": "quantitative"}}},
    {"data": {"name": "br"}, "transform": [{"filter": "datum.p==='f'"}], "mark": {"type": "rule", "strokeWidth": 1.8, "color": "black", "strokeCap": "square"},
     "encoding": {"x": {"field": "x1", "type": "quantitative"}, "y": {"field": "yL", "type": "quantitative"}, "y2": {"field": "top"}}},
    {"data": {"name": "br"}, "transform": [{"filter": "datum.p==='f'"}], "mark": {"type": "rule", "strokeWidth": 1.8, "color": "black", "strokeCap": "square"},
     "encoding": {"x": {"field": "x2", "type": "quantitative"}, "y": {"field": "yR", "type": "quantitative"}, "y2": {"field": "top"}}},
    {"data": {"name": "br"}, "transform": [{"filter": "datum.p==='f'"}], "mark": {"type": "text", "fontSize": 12, "baseline": "alphabetic", "dy": -7},
     "encoding": {"x": {"field": "xm", "type": "quantitative"}, "y": {"field": "top", "type": "quantitative"}, "text": {"field": "lab"}}},
    {"data": {"values": [{}]}, "mark": {"type": "rule", "strokeWidth": 3.5, "color": "#ff0000"},
     "encoding": {"x": {"datum": 2.77}, "x2": {"datum": 5.32}, "y": {"datum": -14.8}}},
    {"data": {"values": [{}]}, "mark": {"type": "text", "text": "+ Na-Butyrate", "fontSize": 14.5, "baseline": "middle"},
     "encoding": {"x": {"datum": 3.95}, "y": {"datum": -18.7}}},
    {"data": {"values": [{}]}, "mark": {"type": "text", "text": "Day 7", "fontSize": 17, "align": "left", "baseline": "middle"},
     "encoding": {"x": {"datum": -1.2}, "y": {"datum": 48.3}}},
    {"data": {"values": [{}]}, "mark": {"type": "text", "text": "f)", "fontSize": 16, "align": "left", "baseline": "middle"},
     "encoding": {"x": {"datum": -1.76}, "y": {"datum": 42.4}}}
  ]},

  {"width": 67, "height": 353, "layer": [
    {"data": {"name": "pts"}, "transform": [{"filter": "datum.p==='c' && (datum.g==='S' || datum.g==='M')"}], "mark": {"type": "point", "shape": "circle", "filled": false, "color": "black", "stroke": "black", "strokeWidth": 1.5, "size": 32, "opacity": 1},
     "encoding": {"x": {"field": "x", "type": "quantitative", "scale": {"domain": [0.32, 5.38], "range": [0, 179], "nice": false, "zero": false}, "axis": {"values": [1, 2, 3.7, 4.7], "tickCount": 12, "labelExpr": "(datum.value < 1.5 || (datum.value > 3 && datum.value < 4)) ? 'Saline' : 'Morphine'", "labelAngle": -45, "labelFontSize": 13.5, "tickSize": 6, "labelPadding": 4, "labelOverlap": false, "title": null}},
                  "y": {"field": "v", "type": "quantitative", "scale": {"domain": [0, 40], "range": [353, 201.5], "nice": false, "zero": false}, "axis": {"values": [0, 10, 20, 30, 40], "tickCount": 12, "labelFontSize": 14, "tickSize": 7, "labelPadding": 2, "labelOverlap": false, "title": "Hot-plate latency, 50°C (seconds)", "titleFontSize": 14, "titleX": -34, "titleBaseline": "middle"}}}},
    {"data": {"name": "pts"}, "transform": [{"filter": "datum.p==='c' && (datum.g==='NS' || datum.g==='NM')"}], "mark": {"type": "point", "shape": "circle", "filled": true, "color": "#ff0000", "size": 36, "opacity": 1},
     "encoding": {"x": {"field": "x", "type": "quantitative"}, "y": {"field": "v", "type": "quantitative"}}},
    {"data": {"name": "med"}, "transform": [{"filter": "datum.p==='c'"}], "mark": {"type": "tick", "orient": "horizontal", "size": 26, "thickness": 2, "color": "black", "opacity": 1},
     "encoding": {"x": {"field": "x", "type": "quantitative"}, "y": {"field": "v", "type": "quantitative"}}},
    {"data": {"name": "br"}, "transform": [{"filter": "datum.p==='c'"}], "mark": {"type": "rule", "strokeWidth": 1.8, "color": "black", "strokeCap": "square"},
     "encoding": {"x": {"field": "x1", "type": "quantitative"}, "x2": {"field": "x2"}, "y": {"field": "top", "type": "quantitative"}}},
    {"data": {"name": "br"}, "transform": [{"filter": "datum.p==='c'"}], "mark": {"type": "rule", "strokeWidth": 1.8, "color": "black", "strokeCap": "square"},
     "encoding": {"x": {"field": "x1", "type": "quantitative"}, "y": {"field": "yL", "type": "quantitative"}, "y2": {"field": "top"}}},
    {"data": {"name": "br"}, "transform": [{"filter": "datum.p==='c'"}], "mark": {"type": "rule", "strokeWidth": 1.8, "color": "black", "strokeCap": "square"},
     "encoding": {"x": {"field": "x2", "type": "quantitative"}, "y": {"field": "yR", "type": "quantitative"}, "y2": {"field": "top"}}},
    {"data": {"name": "br"}, "transform": [{"filter": "datum.p==='c'"}], "mark": {"type": "text", "fontSize": 12, "baseline": "alphabetic", "dy": -7},
     "encoding": {"x": {"field": "xm", "type": "quantitative"}, "y": {"field": "top", "type": "quantitative"}, "text": {"field": "lab"}}},
    {"data": {"values": [{}]}, "mark": {"type": "rule", "strokeWidth": 3.5, "color": "#ff0000"},
     "encoding": {"x": {"datum": 2.77}, "x2": {"datum": 5.31}, "y": {"datum": -19.7}}},
    {"data": {"values": [{}]}, "mark": {"type": "text", "text": "+ Na-Butyrate", "fontSize": 16, "baseline": "middle"},
     "encoding": {"x": {"datum": 3.92}, "y": {"datum": -24.7}}},
    {"data": {"values": [{}]}, "mark": {"type": "text", "text": "Females", "fontSize": 18, "align": "left", "baseline": "middle"},
     "encoding": {"x": {"datum": 3.0}, "y": {"datum": 60.2}}},
    {"data": {"values": [{}]}, "mark": {"type": "text", "text": "c)", "fontSize": 16, "align": "left", "baseline": "middle"},
     "encoding": {"x": {"datum": -1.25}, "y": {"datum": 45.2}}}
  ]},

  {"width": 170, "height": 819, "layer": [
    {"data": {"name": "pts"}, "transform": [{"filter": "datum.p==='g' && (datum.g==='S' || datum.g==='M')"}], "mark": {"type": "point", "shape": "circle", "filled": false, "color": "black", "stroke": "black", "strokeWidth": 1.4, "size": 22, "opacity": 1},
     "encoding": {"x": {"field": "x", "type": "quantitative", "scale": {"domain": [0.32, 5.4], "range": [0, 170], "nice": false, "zero": false}, "axis": {"values": [1, 2, 3.7, 4.7], "tickCount": 12, "labelExpr": "(datum.value < 1.5 || (datum.value > 3 && datum.value < 4)) ? 'Saline' : 'Morphine'", "labelAngle": -45, "labelFontSize": 12, "tickSize": 6, "labelPadding": 4, "labelOverlap": false, "title": null}},
                  "y": {"field": "v", "type": "quantitative", "scale": {"domain": [0, 30], "range": [819, 676], "nice": false, "zero": false}, "axis": {"values": [0, 10, 20, 30], "tickCount": 12, "labelFontSize": 14, "tickSize": 7, "labelPadding": 2, "labelOverlap": false, "title": "Hot-plate latency, 50°C (seconds)", "titleFontSize": 13.5, "titleX": -35, "titleBaseline": "middle"}}}},
    {"data": {"name": "pts"}, "transform": [{"filter": "datum.p==='g' && (datum.g==='NS' || datum.g==='NM')"}], "mark": {"type": "point", "shape": "circle", "filled": true, "color": "#ff0000", "size": 22, "opacity": 1},
     "encoding": {"x": {"field": "x", "type": "quantitative"}, "y": {"field": "v", "type": "quantitative"}}},
    {"data": {"name": "med"}, "transform": [{"filter": "datum.p==='g'"}], "mark": {"type": "tick", "orient": "horizontal", "size": 23, "thickness": 2, "color": "black", "opacity": 1},
     "encoding": {"x": {"field": "x", "type": "quantitative"}, "y": {"field": "v", "type": "quantitative"}}},
    {"data": {"name": "br"}, "transform": [{"filter": "datum.p==='g'"}], "mark": {"type": "rule", "strokeWidth": 1.8, "color": "black", "strokeCap": "square"},
     "encoding": {"x": {"field": "x1", "type": "quantitative"}, "x2": {"field": "x2"}, "y": {"field": "top", "type": "quantitative"}}},
    {"data": {"name": "br"}, "transform": [{"filter": "datum.p==='g'"}], "mark": {"type": "rule", "strokeWidth": 1.8, "color": "black", "strokeCap": "square"},
     "encoding": {"x": {"field": "x1", "type": "quantitative"}, "y": {"field": "yL", "type": "quantitative"}, "y2": {"field": "top"}}},
    {"data": {"name": "br"}, "transform": [{"filter": "datum.p==='g'"}], "mark": {"type": "rule", "strokeWidth": 1.8, "color": "black", "strokeCap": "square"},
     "encoding": {"x": {"field": "x2", "type": "quantitative"}, "y": {"field": "yR", "type": "quantitative"}, "y2": {"field": "top"}}},
    {"data": {"name": "br"}, "transform": [{"filter": "datum.p==='g'"}], "mark": {"type": "text", "fontSize": 12.5, "baseline": "alphabetic", "dy": -7},
     "encoding": {"x": {"field": "xm", "type": "quantitative"}, "y": {"field": "top", "type": "quantitative"}, "text": {"field": "lab"}}},
    {"data": {"values": [{}]}, "mark": {"type": "rule", "strokeWidth": 3.5, "color": "#ff0000"},
     "encoding": {"x": {"datum": 2.79}, "x2": {"datum": 5.32}, "y": {"datum": -14.8}}},
    {"data": {"values": [{}]}, "mark": {"type": "text", "text": "+ Na-Butyrate", "fontSize": 15, "baseline": "middle"},
     "encoding": {"x": {"datum": 3.95}, "y": {"datum": -18.6}}},
    {"data": {"values": [{}]}, "mark": {"type": "text", "text": "Day 9", "fontSize": 17, "align": "left", "baseline": "middle"},
     "encoding": {"x": {"datum": -1.23}, "y": {"datum": 45.6}}},
    {"data": {"values": [{}]}, "mark": {"type": "text", "text": "g)", "fontSize": 16, "align": "left", "baseline": "middle"},
     "encoding": {"x": {"datum": -1.92}, "y": {"datum": 40.8}}}
  ]}
]
}
